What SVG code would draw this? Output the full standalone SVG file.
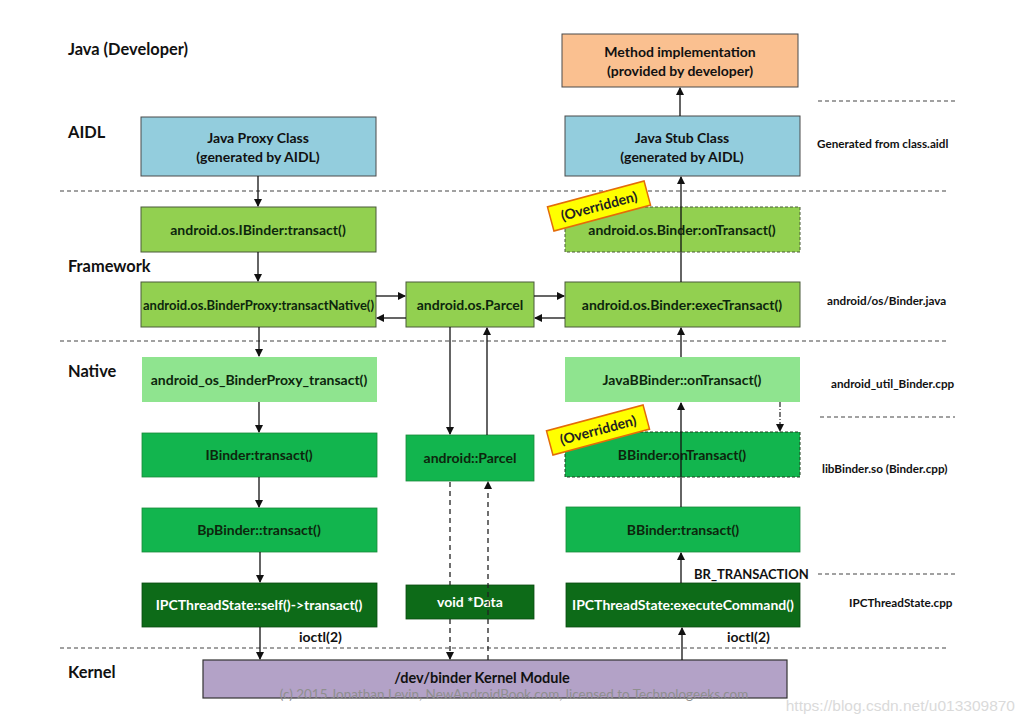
<svg xmlns="http://www.w3.org/2000/svg" width="1023" height="723" viewBox="0 0 1023 723">
<defs>
<style>
.lbl{font-family:Lato,"Liberation Sans",sans-serif;font-weight:bold;font-size:16.4px;fill:#111}
.side{font-family:Lato,"Liberation Sans",sans-serif;font-weight:bold;font-size:11.7px;fill:#111}
.edge{font-family:Lato,"Liberation Sans",sans-serif;font-weight:bold;font-size:14px;fill:#111}
.t{font-family:Lato,"Liberation Sans",sans-serif;font-weight:bold;font-size:14px;fill:#111;text-anchor:middle}
.tg{font-family:Lato,"Liberation Sans",sans-serif;font-weight:bold;font-size:14px;fill:#0d260d;text-anchor:middle}
.tw{font-family:Lato,"Liberation Sans",sans-serif;font-weight:bold;font-size:14px;fill:#fff;text-anchor:middle}
.sep{stroke:#444;stroke-width:1.2;stroke-dasharray:4 3;fill:none}
.c{stroke:#111;stroke-width:1.3;fill:none}
.cd{stroke:#222;stroke-width:1.3;fill:none;stroke-dasharray:5 4}
.blue{fill:#93cddd;stroke:#4a4a4a;stroke-width:1}
.orange{fill:#fac090;stroke:#4a4a4a;stroke-width:1}
.lime{fill:#92d050;stroke:#4a5a3a;stroke-width:1}
.lime-d{fill:#92d050;stroke:#4a5a3a;stroke-width:1;stroke-dasharray:3 2}
.lg{fill:#8fe48f;stroke:none}
.mg{fill:#12b54e;stroke:#1a8a3a;stroke-width:0.8}
.mg-d{fill:#12b54e;stroke:#1f3f1f;stroke-width:1;stroke-dasharray:3 2}
.dg{fill:#0d6b18;stroke:#0a4a10;stroke-width:0.8}
.kern{fill:#b3a2c7;stroke:#333;stroke-width:1.2}
.badge{fill:#ffff00;stroke:#e36c09;stroke-width:1.5}
.bt{font-family:Lato,"Liberation Sans",sans-serif;font-weight:bold;font-size:14px;fill:#222;text-anchor:middle}
</style>
<marker id="ah" markerWidth="8" markerHeight="8" refX="7" refY="4" orient="auto" markerUnits="userSpaceOnUse">
<path d="M0,0 L8,4 L0,8 z" fill="#111"/>
</marker>
</defs>
<rect width="1023" height="723" fill="#fff"/>

<g id="separators">
<line class="sep" x1="60" y1="191" x2="946" y2="191"/>
<line class="sep" x1="60" y1="341" x2="946" y2="341"/>
<line class="sep" x1="60" y1="648" x2="948" y2="648"/>
<line class="sep" x1="818" y1="101" x2="955" y2="101"/>
<line class="sep" x1="820" y1="417" x2="955" y2="417"/>
<line class="sep" x1="818" y1="574" x2="958" y2="574"/>
</g>

<g id="layer-labels">
<text class="lbl" x="68" y="55">Java (Developer)</text>
<text class="lbl" x="68" y="138">AIDL</text>
<text class="lbl" x="68" y="272">Framework</text>
<text class="lbl" x="68" y="377">Native</text>
<text class="lbl" x="68" y="678">Kernel</text>
</g>

<g id="side-labels">
<text class="side" x="817" y="148">Generated from class.aidl</text>
<text class="side" x="827" y="305">android/os/Binder.java</text>
<text class="side" x="831" y="388">android_util_Binder.cpp</text>
<text class="side" x="822" y="473">libBinder.so (Binder.cpp)</text>
<text class="side" x="849" y="607">IPCThreadState.cpp</text>
</g>

<g id="n-proxy"><rect class="blue" x="141" y="117" width="235" height="59"/>
<text class="t" x="258" y="143">Java Proxy Class</text><text class="t" x="258" y="162">(generated by AIDL)</text></g>
<g id="n-ibinder-java"><rect class="lime" x="141" y="207" width="235" height="45"/>
<text class="tg" x="258" y="235">android.os.IBinder:transact()</text></g>
<g id="n-binderproxy"><rect class="lime" x="141" y="282" width="235" height="45"/>
<text class="tg" x="258.5" y="310" textLength="231" lengthAdjust="spacingAndGlyphs">android.os.BinderProxy:transactNative()</text></g>
<g id="n-android-os-bp"><rect class="lg" x="142" y="357" width="235" height="45"/>
<text class="tg" x="259" y="385">android_os_BinderProxy_transact()</text></g>
<g id="n-ibinder-native"><rect class="mg" x="142" y="433" width="235" height="44"/>
<text class="tg" x="259" y="460">IBinder:transact()</text></g>
<g id="n-bpbinder"><rect class="mg" x="142" y="508" width="235" height="44"/>
<text class="tg" x="259" y="535">BpBinder::transact()</text></g>
<g id="n-ipc-self"><rect class="dg" x="142" y="583" width="235" height="44"/>
<text class="tw" x="259" y="610">IPCThreadState::self()-&gt;transact()</text></g>

<g id="n-parcel-java"><rect class="lime" x="406" y="282" width="128" height="45"/>
<text class="tg" x="470" y="310">android.os.Parcel</text></g>
<g id="n-parcel-native"><rect class="mg" x="406" y="435" width="128" height="46"/>
<text class="tg" x="470" y="463">android::Parcel</text></g>
<g id="n-data"><rect class="dg" x="406" y="585" width="128" height="34"/>
<text class="tw" x="470" y="607">void *Data</text></g>

<g id="n-method"><rect class="orange" x="562" y="34" width="236" height="53"/>
<text class="t" x="680" y="57">Method implementation</text><text class="t" x="680" y="76">(provided by developer)</text></g>
<g id="n-stub"><rect class="blue" x="565" y="116" width="235" height="60"/>
<text class="t" x="682" y="143">Java Stub Class</text><text class="t" x="682" y="162">(generated by AIDL)</text></g>
<g id="n-ontransact-java"><rect class="lime-d" x="565" y="207" width="235" height="45"/>
<text class="tg" x="682" y="235">android.os.Binder:onTransact()</text></g>
<g id="n-exectransact"><rect class="lime" x="565" y="282" width="235" height="45"/>
<text class="tg" x="682" y="310">android.os.Binder:execTransact()</text></g>
<g id="n-javabbinder"><rect class="lg" x="565" y="357" width="235" height="45"/>
<text class="tg" x="682" y="385">JavaBBinder::onTransact()</text></g>
<g id="n-bbinder-ontransact"><rect class="mg-d" x="565" y="432" width="235" height="45"/>
<text class="tg" x="682" y="460">BBinder:onTransact()</text></g>
<g id="n-bbinder-transact"><rect class="mg" x="566" y="507" width="234" height="45"/>
<text class="tg" x="683" y="535">BBinder:transact()</text></g>
<g id="n-ipc-exec"><rect class="dg" x="566" y="583" width="234" height="44"/>
<text class="tw" x="683" y="610">IPCThreadState:executeCommand()</text></g>

<g id="n-kernel"><rect class="kern" x="203" y="660" width="584" height="38"/>
<text class="t" x="482" y="683" style="font-size:14.5px">/dev/binder Kernel Module</text></g>

<g id="connectors">
<line class="c" x1="258" y1="176" x2="258" y2="206" marker-end="url(#ah)"/>
<line class="c" x1="258" y1="252" x2="258" y2="281" marker-end="url(#ah)"/>
<line class="c" x1="259" y1="327" x2="259" y2="356" marker-end="url(#ah)"/>
<line class="c" x1="259" y1="402" x2="259" y2="432" marker-end="url(#ah)"/>
<line class="c" x1="259" y1="477" x2="259" y2="507" marker-end="url(#ah)"/>
<line class="c" x1="260" y1="552" x2="260" y2="582" marker-end="url(#ah)"/>
<line class="c" x1="260" y1="627" x2="260" y2="659" marker-end="url(#ah)"/>
<line class="c" x1="376" y1="296" x2="405" y2="296" marker-end="url(#ah)"/>
<line class="c" x1="406" y1="318" x2="377" y2="318" marker-end="url(#ah)"/>
<line class="c" x1="534" y1="296" x2="564" y2="296" marker-end="url(#ah)"/>
<line class="c" x1="565" y1="318" x2="535" y2="318" marker-end="url(#ah)"/>
<line class="c" x1="450" y1="327" x2="450" y2="434" marker-end="url(#ah)"/>
<line class="c" x1="487" y1="435" x2="487" y2="328" marker-end="url(#ah)"/>
<line class="cd" x1="450" y1="482" x2="450" y2="585"/>
<line class="cd" x1="450" y1="619" x2="450" y2="659" marker-end="url(#ah)"/>
<line class="cd" x1="488" y1="660" x2="488" y2="482" marker-end="url(#ah)"/>
<line class="c" x1="682" y1="660" x2="682" y2="628" marker-end="url(#ah)"/>
<line class="c" x1="681" y1="583" x2="681" y2="553" marker-end="url(#ah)"/>
<line class="c" x1="681" y1="507" x2="681" y2="403" marker-end="url(#ah)"/>
<line class="c" x1="681" y1="357" x2="681" y2="328" marker-end="url(#ah)"/>
<line class="c" x1="681" y1="282" x2="681" y2="177" marker-end="url(#ah)"/>
<line class="c" x1="680" y1="116" x2="680" y2="88" marker-end="url(#ah)"/>
<line x1="780" y1="402" x2="780" y2="431" stroke="#333" stroke-width="1.3" stroke-dasharray="5 2 1 2" marker-end="url(#ah)"/>
<text class="edge" x="299" y="642">ioctl(2)</text>
<text class="edge" x="727" y="642">ioctl(2)</text>
<text class="edge" x="694" y="579" style="font-size:13px">BR_TRANSACTION</text>
</g>

<g id="badges">
<g transform="translate(599,206) rotate(-15)"><rect class="badge" x="-50" y="-12.5" width="100" height="25"/>
<text class="bt" x="0" y="5">(Overridden)</text></g>
<g transform="translate(598,430) rotate(-15)"><rect class="badge" x="-50" y="-12.5" width="100" height="25"/>
<text class="bt" x="0" y="5">(Overridden)</text></g>
</g>

<g id="watermarks">
<text x="514" y="699" text-anchor="middle" style="font-family:Lato,'Liberation Sans',sans-serif;font-size:13.5px;fill:#8f8f8f">(c) 2015 Jonathan Levin, NewAndroidBook.com, licensed to Technologeeks.com</text>
<text x="1015" y="711" text-anchor="end" style="font-family:'Liberation Sans',sans-serif;font-size:15.5px;fill:#dadada">https://blog.csdn.net/u013309870</text>
</g>
</svg>
